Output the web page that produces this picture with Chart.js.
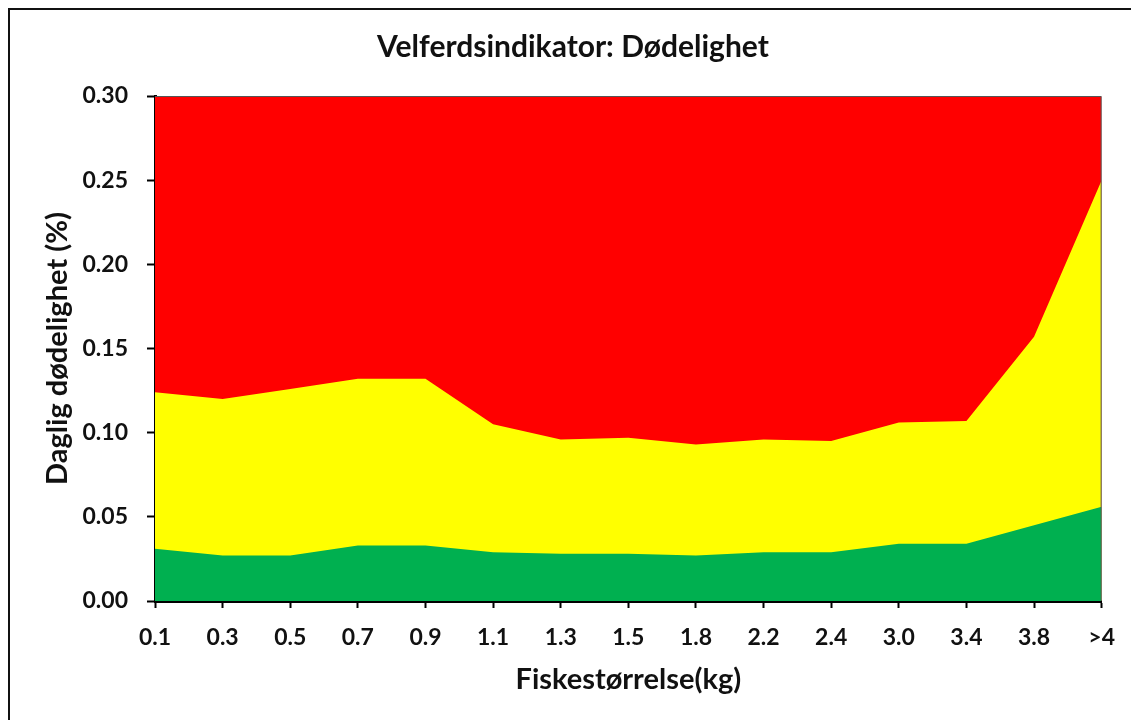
<!DOCTYPE html>
<html lang="no">
<head>
    <meta charset="UTF-8">
    <title>Velferdsindikator: Dødelighet</title>
    <script src="https://cdn.jsdelivr.net/npm/chart.js"></script>
    <style>
        html, body { margin: 0; padding: 0; background: #fff; }
        #wrap { width: 1131px; height: 720px; }
    </style>
</head>
<body>
    <div id="wrap"><canvas id="dodelighet-chart"></canvas></div>

    <script>
        // Fiskestørrelse (kg) langs x-aksen
        const storrelser = ['0.1', '0.3', '0.5', '0.7', '0.9', '1.1', '1.3', '1.5', '1.8', '2.2', '2.4', '3.0', '3.4', '3.8', '>4'];
        // Øvre grense for grønn sone (daglig dødelighet %)
        const gronnGrense = [0.031, 0.027, 0.027, 0.033, 0.033, 0.029, 0.028, 0.028, 0.027, 0.029, 0.029, 0.034, 0.034, 0.045, 0.056];
        // Øvre grense for gul sone
        const gulGrense = [0.124, 0.120, 0.126, 0.132, 0.132, 0.105, 0.096, 0.097, 0.093, 0.096, 0.095, 0.106, 0.107, 0.157, 0.250];
        // Rød sone går opp til toppen av aksen
        const rodGrense = [0.30, 0.30, 0.30, 0.30, 0.30, 0.30, 0.30, 0.30, 0.30, 0.30, 0.30, 0.30, 0.30, 0.30, 0.30];
        const yTicks = [0, 0.05, 0.10, 0.15, 0.20, 0.25, 0.30];

        const fontFamily = 'Lato, "Open Sans", sans-serif';
        const tekstFarge = '#111';

        // Ytre ramme og tynn kant øverst/til høyre rundt plottområdet
        const rammePlugin = {
            id: 'ramme',
            beforeDraw(chart) {
                const c = chart.ctx;
                c.save();
                c.fillStyle = '#fff';
                c.fillRect(0, 0, chart.width, chart.height);
                c.strokeStyle = '#111';
                c.lineWidth = 2;
                c.strokeRect(9, 9, chart.width + 20, chart.height + 20);
                c.restore();
            },
            afterDatasetsDraw(chart) {
                const a = chart.chartArea;
                const c = chart.ctx;
                c.save();
                c.strokeStyle = '#555';
                c.lineWidth = 1;
                c.beginPath();
                c.moveTo(a.left, a.top + 0.5);
                c.lineTo(a.right - 0.5, a.top + 0.5);
                c.lineTo(a.right - 0.5, a.bottom);
                c.stroke();
                c.restore();
            }
        };

        const sone = (data, farge) => ({
            data: data,
            backgroundColor: farge,
            borderWidth: 0,
            pointRadius: 0,
            tension: 0,
            fill: 'origin'
        });

        const ctx = document.getElementById('dodelighet-chart').getContext('2d');
        const chart = new Chart(ctx, {
            type: 'line',
            data: {
                labels: storrelser,
                // tegnes baklengs: rød først, så gul, grønn øverst
                datasets: [
                    sone(gronnGrense, '#00B050'),
                    sone(gulGrense, '#FFFF00'),
                    sone(rodGrense, '#FF0000')
                ]
            },
            options: {
                responsive: true,
                maintainAspectRatio: false,
                animation: false,
                layout: { padding: { left: 43, right: 28, top: 0, bottom: 0 } },
                plugins: {
                    legend: { display: false },
                    tooltip: { enabled: false },
                    title: {
                        display: true,
                        text: 'Velferdsindikator: Dødelighet',
                        color: tekstFarge,
                        font: { family: fontFamily, size: 30, weight: 'bold' },
                        padding: { top: 29, bottom: 31 }
                    }
                },
                scales: {
                    x: {
                        type: 'category',
                        offset: false,
                        afterFit(scale) { scale.height = 119; },
                        border: { display: true, color: '#000', width: 3 },
                        grid: { drawOnChartArea: false, drawTicks: true, tickLength: 7, tickWidth: 2, tickColor: '#000' },
                        ticks: {
                            color: tekstFarge,
                            padding: 16,
                            maxRotation: 0,
                            autoSkip: false,
                            font: { family: fontFamily, size: 23, weight: 'bold' }
                        },
                        title: {
                            display: true,
                            text: 'Fiskestørrelse(kg)',
                            color: tekstFarge,
                            font: { family: fontFamily, size: 29, weight: 'bold' },
                            padding: { top: 0, bottom: 23 }
                        }
                    },
                    y: {
                        min: 0,
                        max: 0.30,
                        afterFit(scale) { scale.width = 112; },
                        afterBuildTicks(scale) { scale.ticks = yTicks.map(v => ({ value: v })); },
                        border: { display: true, color: '#000', width: 3 },
                        grid: { drawOnChartArea: false, drawTicks: true, tickLength: 8, tickWidth: 2, tickColor: '#000' },
                        ticks: {
                            color: tekstFarge,
                            padding: 19,
                            font: { family: fontFamily, size: 23, weight: 'bold' },
                            callback: v => v.toFixed(2)
                        },
                        title: {
                            display: true,
                            text: 'Daglig dødelighet (%)',
                            color: tekstFarge,
                            font: { family: fontFamily, size: 29, weight: 'bold' },
                            padding: { top: -3, bottom: 0 }
                        }
                    }
                }
            },
            plugins: [rammePlugin]
        });
    </script>
</body>
</html>
